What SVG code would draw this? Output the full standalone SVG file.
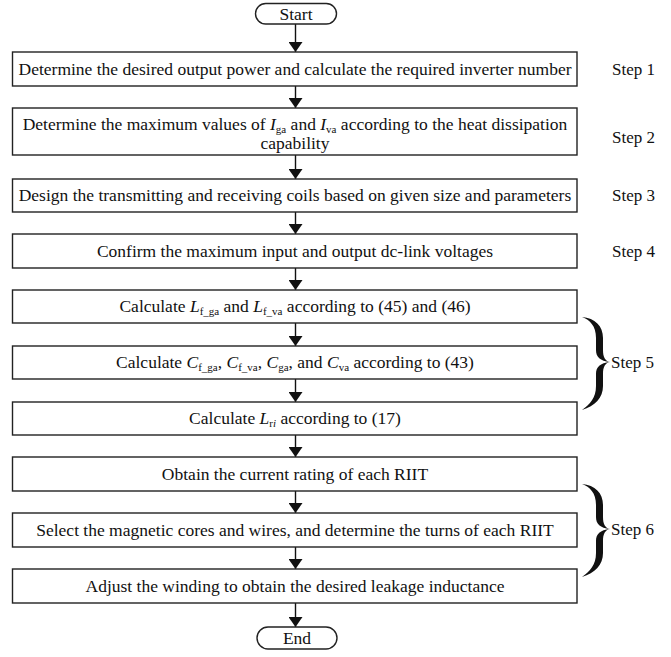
<svg xmlns="http://www.w3.org/2000/svg" width="671" height="657" viewBox="0 0 671 657">
<style>
.box{fill:#fff;stroke:#222;stroke-width:1.4}
.t{font-family:"Liberation Serif","Times New Roman",serif;font-size:17.5px;fill:#111;text-anchor:middle}
.s{font-family:"Liberation Serif","Times New Roman",serif;font-size:17px;fill:#111}
.i{font-style:italic}
.sub{font-size:11px}
.ln{stroke:#111;stroke-width:1.4;fill:none}
</style>
<defs>
<marker id="ah" viewBox="0 0 10 14" refX="10" refY="7" markerWidth="10" markerHeight="14" markerUnits="userSpaceOnUse" orient="auto">
<path d="M0,0 L10,7 L0,14 Z" fill="#111"/>
</marker>
<path id="brace" fill="#111" d="M582,317 C595,318 603,326 603,338 L603,350 C603,357 605,361 610,362 C605,363 603,367 603,374 L603,386 C603,398 595,406 582,410 C590,404 596,398 596,386 L596,374 C596,367 600,363 610,362 C600,361 596,357 596,350 L596,338 C596,326 590,320 582,317 Z"/>
</defs>

<g id="connectors">
<line class="ln" x1="295.5" y1="24" x2="295.5" y2="52" marker-end="url(#ah)"/>
<line class="ln" x1="295.5" y1="86" x2="295.5" y2="108" marker-end="url(#ah)"/>
<line class="ln" x1="295.5" y1="155" x2="295.5" y2="179" marker-end="url(#ah)"/>
<line class="ln" x1="295.5" y1="212" x2="295.5" y2="234" marker-end="url(#ah)"/>
<line class="ln" x1="295.5" y1="268" x2="295.5" y2="290" marker-end="url(#ah)"/>
<line class="ln" x1="295.5" y1="323" x2="295.5" y2="346" marker-end="url(#ah)"/>
<line class="ln" x1="295.5" y1="379" x2="295.5" y2="402" marker-end="url(#ah)"/>
<line class="ln" x1="295.5" y1="435" x2="295.5" y2="457" marker-end="url(#ah)"/>
<line class="ln" x1="295.5" y1="491" x2="295.5" y2="513" marker-end="url(#ah)"/>
<line class="ln" x1="295.5" y1="547" x2="295.5" y2="569" marker-end="url(#ah)"/>
<line class="ln" x1="295.5" y1="603" x2="295.5" y2="627" marker-end="url(#ah)"/>
</g>

<g id="start">
<rect class="box" x="255.5" y="3.5" width="81" height="20.5" rx="10.25"/>
<text class="t" x="296" y="19.5">Start</text>
</g>

<g id="step1">
<rect class="box" x="12.5" y="52" width="564.5" height="34"/>
<text class="t" x="295" y="74.5">Determine the desired output power and calculate the required inverter number</text>
<text class="s" x="612" y="74.5">Step 1</text>
</g>

<g id="step2">
<rect class="box" x="12.5" y="108" width="564.5" height="47"/>
<text class="t" x="295" y="129.5">Determine the maximum values of <tspan class="i">I</tspan><tspan class="sub" dy="3">ga</tspan><tspan dy="-3"> and </tspan><tspan class="i">I</tspan><tspan class="sub" dy="3">va</tspan><tspan dy="-3"> according to the heat dissipation</tspan></text>
<text class="t" x="295" y="149">capability</text>
<text class="s" x="612" y="143">Step 2</text>
</g>

<g id="step3">
<rect class="box" x="12.5" y="179" width="564.5" height="33"/>
<text class="t" x="295" y="201">Design the transmitting and receiving coils based on given size and parameters</text>
<text class="s" x="612" y="201">Step 3</text>
</g>

<g id="step4">
<rect class="box" x="12.5" y="234" width="564.5" height="34"/>
<text class="t" x="295" y="256.5">Confirm the maximum input and output dc-link voltages</text>
<text class="s" x="612" y="256.5">Step 4</text>
</g>

<g id="step5a">
<rect class="box" x="12.5" y="290" width="564.5" height="33"/>
<text class="t" x="295" y="312">Calculate <tspan class="i">L</tspan><tspan class="sub" dy="3">f_ga</tspan><tspan dy="-3"> and </tspan><tspan class="i">L</tspan><tspan class="sub" dy="3">f_va</tspan><tspan dy="-3"> according to (45) and (46)</tspan></text>
</g>

<g id="step5b">
<rect class="box" x="12.5" y="346" width="564.5" height="33"/>
<text class="t" x="295" y="368">Calculate <tspan class="i">C</tspan><tspan class="sub" dy="3">f_ga</tspan><tspan dy="-3">, </tspan><tspan class="i">C</tspan><tspan class="sub" dy="3">f_va</tspan><tspan dy="-3">, </tspan><tspan class="i">C</tspan><tspan class="sub" dy="3">ga</tspan><tspan dy="-3">, and </tspan><tspan class="i">C</tspan><tspan class="sub" dy="3">va</tspan><tspan dy="-3"> according to (43)</tspan></text>
</g>

<g id="step5c">
<rect class="box" x="12.5" y="402" width="564.5" height="33"/>
<text class="t" x="295" y="424">Calculate <tspan class="i">L</tspan><tspan class="sub" dy="3">r</tspan><tspan class="sub i">i</tspan><tspan dy="-3"> according to (17)</tspan></text>
</g>

<g id="step5label">
<use href="#brace"/>
<text class="s" x="611" y="367.5">Step 5</text>
</g>

<g id="step6a">
<rect class="box" x="12.5" y="457" width="564.5" height="34"/>
<text class="t" x="295" y="479.5">Obtain the current rating of each RIIT</text>
</g>

<g id="step6b">
<rect class="box" x="12.5" y="513" width="564.5" height="34"/>
<text class="t" x="295" y="535.5">Select the magnetic cores and wires, and determine the turns of each RIIT</text>
</g>

<g id="step6c">
<rect class="box" x="12.5" y="569" width="564.5" height="34"/>
<text class="t" x="295" y="591.5">Adjust the winding to obtain the desired leakage inductance</text>
</g>

<g id="step6label">
<use href="#brace" transform="translate(0,167)"/>
<text class="s" x="611" y="534.5">Step 6</text>
</g>

<g id="end">
<rect class="box" x="257" y="627" width="80" height="22" rx="11"/>
<text class="t" x="297" y="643.5">End</text>
</g>
</svg>
